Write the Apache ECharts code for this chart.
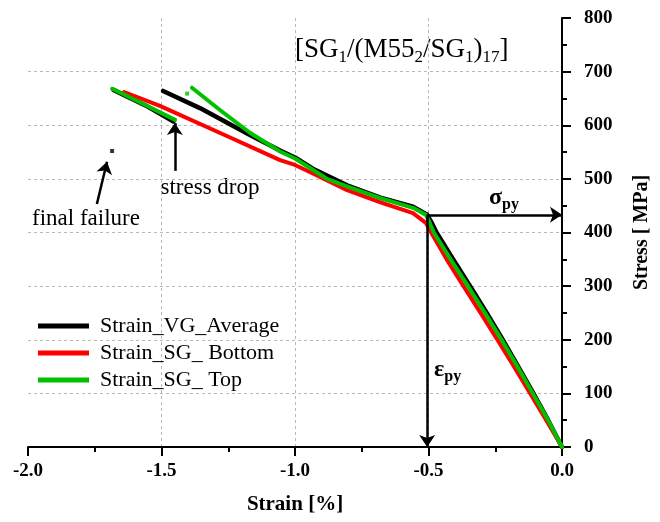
<!DOCTYPE html>
<html>
<head>
<meta charset="utf-8">
<script src="https://cdn.jsdelivr.net/npm/echarts@6/dist/echarts.min.js"></script>
<style>
  html, body { margin: 0; padding: 0; background: #fff; }
  #chart { width: 660px; height: 522px; }
</style>
</head>
<body>
<div id="chart"></div>
<script>
// Compressive stress-strain response, [SG1/(M55_2/SG1)_17] laminate
// Each point: [strain %, stress MPa]

// Video gauge average: loading up to first peak
const vgAverageLoading = [
  [0, 0], [-0.052, 50], [-0.107, 100], [-0.164, 150], [-0.222, 200],
  [-0.282, 250], [-0.344, 300], [-0.408, 350], [-0.470, 400], [-0.490, 420],
  [-0.505, 433], [-0.558, 448], [-0.680, 465], [-0.805, 488], [-0.933, 519],
  [-1.000, 540], [-1.056, 553], [-1.169, 582], [-1.356, 632], [-1.494, 664]
];
// Video gauge average: reloading after the stress drop
const vgAverageAfterDrop = [[-1.455, 607], [-1.560, 637], [-1.680, 666]];
// Last recorded point at final failure
const vgFinalFailure = [[-1.685, 552]];

// Strain gauge, bottom face
const sgBottom = [
  [0, 0], [-0.059, 50], [-0.119, 100], [-0.180, 150], [-0.242, 200],
  [-0.305, 250], [-0.369, 300], [-0.432, 350], [-0.490, 400], [-0.510, 418],
  [-0.558, 436], [-0.680, 456], [-0.805, 479], [-0.933, 510], [-1.000, 526],
  [-1.056, 535], [-1.247, 578], [-1.506, 636], [-1.640, 662]
];

// Strain gauge, top face: loading up to first peak
const sgTopLoading = [
  [0, 0], [-0.052, 50], [-0.109, 100], [-0.167, 150], [-0.226, 200],
  [-0.288, 250], [-0.352, 300], [-0.417, 350], [-0.480, 400], [-0.497, 420],
  [-0.510, 433], [-0.558, 446], [-0.680, 464], [-0.805, 486], [-0.880, 500],
  [-0.933, 517], [-1.000, 538], [-1.056, 551], [-1.169, 586], [-1.280, 628],
  [-1.386, 670]
];
const sgTopIsolated = [[-1.404, 659]];
// Strain gauge, top face: reloading after the stress drop
const sgTopAfterDrop = [[-1.449, 610], [-1.570, 640], [-1.685, 668]];

// Proportional limit (yield) point
const yieldPoint = [-0.505, 433];

const seriesNames = ['Strain_VG_Average', 'Strain_SG_ Bottom', 'Strain_SG_ Top'];
const seriesColors = ['#000000', '#ff0000', '#00c000'];

const serif = 'Liberation Serif';
const chart = echarts.init(document.getElementById('chart'), null, { renderer: 'canvas' });

function curve(name, color, data, width) {
  return {
    name: name, type: 'line', data: data,
    showSymbol: false, symbol: 'none', smooth: false,
    lineStyle: { color: color, width: width, join: 'round', cap: 'round' },
    itemStyle: { color: color },
    animation: false, silent: true, z: 3
  };
}
function dots(name, color, data) {
  return {
    name: name, type: 'scatter', data: data, symbol: 'rect', symbolSize: 4,
    itemStyle: { color: color }, animation: false, silent: true, z: 4
  };
}
function arrows(pairs) {
  return {
    type: 'line', data: [], silent: true, animation: false,
    markLine: {
      silent: true, animation: false,
      symbol: ['none', 'arrow'], symbolSize: 12,
      label: { show: false },
      lineStyle: { color: '#000', width: 2.5, type: 'solid' },
      emphasis: { disabled: true },
      data: pairs.map(p => [{ coord: p[0] }, { coord: p[1] }])
    }
  };
}
function subscripted(main, sub, mainSize, subSize, weight) {
  return {
    m: { fontFamily: serif, fontWeight: weight, fontSize: mainSize, color: '#000', lineHeight: mainSize + 6, verticalAlign: 'middle' },
    s: { fontFamily: serif, fontWeight: weight, fontSize: subSize, color: '#000', lineHeight: subSize, verticalAlign: 'bottom' }
  };
}

const option = {
  backgroundColor: '#fff',
  animation: false,
  grid: { left: 28, right: 98, top: 18, bottom: 75, containLabel: false },
  legend: {
    data: seriesNames,
    orient: 'vertical', left: 33, top: 310,
    icon: 'rect', itemWidth: 51, itemHeight: 5, itemGap: 5,
    textStyle: { fontFamily: serif, fontSize: 22, color: '#000', lineHeight: 22, padding: [0, 0, 0, 6] },
    selectedMode: false
  },
  xAxis: {
    type: 'value', min: -2, max: 0, interval: 0.5,
    name: 'Strain [%]', nameLocation: 'middle', nameGap: 47,
    nameTextStyle: { fontFamily: serif, fontWeight: 'bold', fontSize: 21, color: '#000' },
    axisLine: { show: true, onZero: false, lineStyle: { color: '#000', width: 2 } },
    axisTick: { show: true, inside: false, length: 9, lineStyle: { color: '#000', width: 2 } },
    minorTick: { show: true, splitNumber: 2, length: 5, lineStyle: { color: '#000', width: 2 } },
    axisLabel: {
      fontFamily: serif, fontWeight: 'bold', fontSize: 19, color: '#000', margin: 15,
      formatter: v => v.toFixed(1)
    },
    splitLine: {
      show: true, showMinLine: false, showMaxLine: false,
      lineStyle: { color: '#b8b8b8', width: 1, type: [3, 3] }
    }
  },
  yAxis: {
    type: 'value', min: 0, max: 800, interval: 100, position: 'right',
    name: 'Stress [ MPa]', nameLocation: 'middle', nameGap: 70, nameRotate: 90,
    nameTextStyle: { fontFamily: serif, fontWeight: 'bold', fontSize: 20, color: '#000' },
    axisLine: { show: true, onZero: false, lineStyle: { color: '#000', width: 2 } },
    axisTick: { show: true, inside: false, length: 9, lineStyle: { color: '#000', width: 2 } },
    minorTick: { show: true, splitNumber: 2, length: 5, lineStyle: { color: '#000', width: 2 } },
    axisLabel: { fontFamily: serif, fontWeight: 'bold', fontSize: 19, color: '#000', margin: 22 },
    splitLine: {
      show: true, showMinLine: false, showMaxLine: false,
      lineStyle: { color: '#b8b8b8', width: 1, type: [3, 3] }
    }
  },
  series: [
    curve(seriesNames[0], seriesColors[0], vgAverageLoading, 4.5),
    curve(seriesNames[0], seriesColors[0], vgAverageAfterDrop, 4.5),
    dots('VG final failure', seriesColors[0], vgFinalFailure),
    curve(seriesNames[1], seriesColors[1], sgBottom, 4),
    curve(seriesNames[2], seriesColors[2], sgTopLoading, 4),
    curve(seriesNames[2], seriesColors[2], sgTopAfterDrop, 4),
    dots('SG top isolated', seriesColors[2], sgTopIsolated),
    arrows([
      [yieldPoint, [0, yieldPoint[1]]],
      [yieldPoint, [yieldPoint[0], 0]],
      [[-1.45, 515], [-1.45, 604]],
      [[-1.742, 453], [-1.704, 532]]
    ])
  ],
  graphic: [
    {
      type: 'text', x: 295, y: 50, silent: true,
      style: {
        text: '{m|[SG}{s|1}{m|/(M55}{s|2}{m|/SG}{s|1}{m|)}{s|17}{m|]}',
        align: 'left', verticalAlign: 'middle',
        rich: subscripted('', '', 27, 17, 'normal')
      }
    },
    {
      type: 'text', x: 489, y: 198, silent: true,
      style: {
        text: '{m|σ}{s|py}', align: 'left', verticalAlign: 'middle',
        rich: subscripted('', '', 24, 16, 'bold')
      }
    },
    {
      type: 'text', x: 434, y: 370, silent: true,
      style: {
        text: '{m|ε}{s|py}', align: 'left', verticalAlign: 'middle',
        rich: subscripted('', '', 24, 16, 'bold')
      }
    },
    {
      type: 'text', x: 210, y: 188, silent: true,
      style: { text: 'stress drop', fontFamily: serif, fontSize: 23, fill: '#000', align: 'center', verticalAlign: 'middle' }
    },
    {
      type: 'text', x: 86, y: 219, silent: true,
      style: { text: 'final failure', fontFamily: serif, fontSize: 23, fill: '#000', align: 'center', verticalAlign: 'middle' }
    }
  ]
};

chart.setOption(option);
</script>
</body>
</html>
